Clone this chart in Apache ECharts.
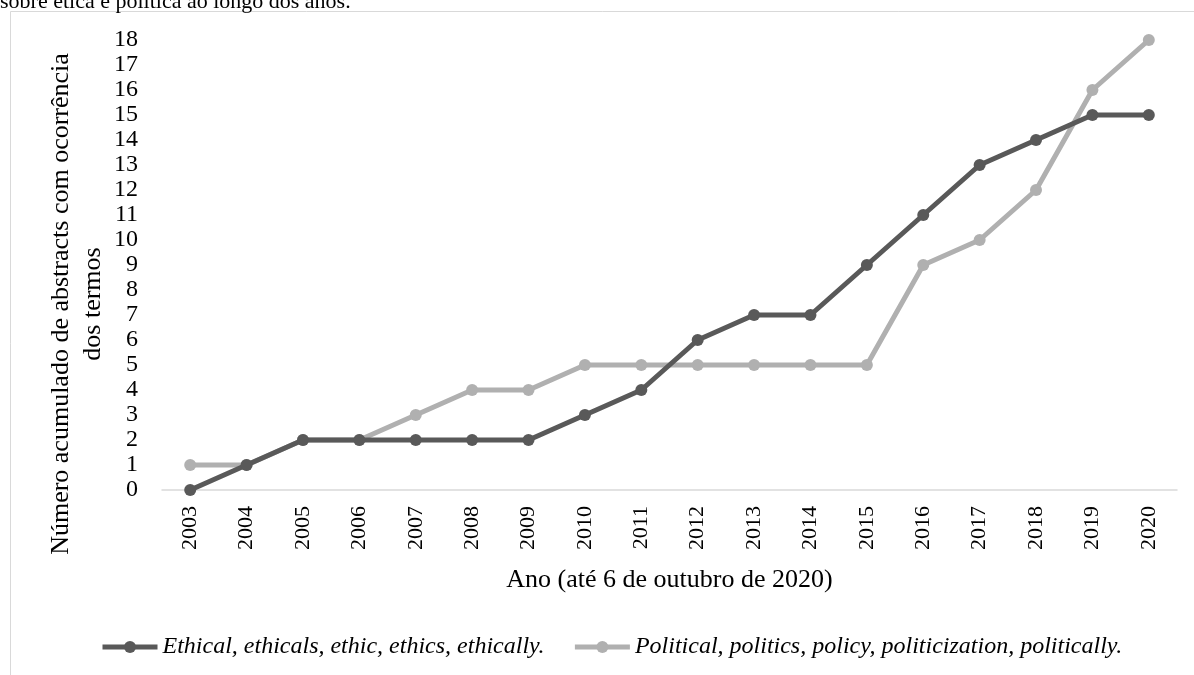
<!DOCTYPE html>
<html>
<head>
<meta charset="utf-8">
<script src="https://cdn.jsdelivr.net/npm/echarts@6/dist/echarts.min.js"></script>
<style>
html,body{margin:0;padding:0;background:#fff;}
#chart{width:1194px;height:675px;}
</style>
</head>
<body>
<div id="chart"></div>
<script>
const years = ['2003','2004','2005','2006','2007','2008','2009','2010','2011','2012','2013','2014','2015','2016','2017','2018','2019','2020'];
const ethical = [0,1,2,2,2,2,2,3,4,6,7,7,9,11,13,14,15,15];
const political = [1,1,2,2,3,4,4,5,5,5,5,5,5,9,10,12,16,18];
const seriesNames = ['Ethical, ethicals, ethic, ethics, ethically.', 'Political, politics, policy, politicization, politically.'];
const yTicks = [0,1,2,3,4,5,6,7,8,9,10,11,12,13,14,15,16,17,18];

const FONT = '"Liberation Serif", "Times New Roman", serif';
const DARK = '#595959';
const LIGHT = '#b0b0b0';

const chart = echarts.init(document.getElementById('chart'));
chart.setOption({
  animation: false,
  backgroundColor: '#fff',
  textStyle: { fontFamily: FONT, color: '#000' },
  graphic: [
    { type: 'rect', shape: { x: 10.5, y: 11.5, width: 1300, height: 800 },
      style: { fill: 'none', stroke: '#d9d9d9', lineWidth: 1 } },
    { type: 'text', x: 0, y: 13,
      style: { text: 'sobre ética e política ao longo dos anos.', fontFamily: FONT, fontSize: 22, fill: '#000', align: 'left', verticalAlign: 'bottom' } },
    { type: 'text', x: 61, y: 304, rotation: Math.PI / 2,
      style: { text: 'Número acumulado de abstracts com ocorrência', fontFamily: FONT, fontSize: 26, fill: '#000', align: 'center', verticalAlign: 'middle' } },
    { type: 'text', x: 93, y: 304, rotation: Math.PI / 2,
      style: { text: 'dos termos', fontFamily: FONT, fontSize: 26, fill: '#000', align: 'center', verticalAlign: 'middle' } }
  ],
  grid: { left: 162, right: 17, top: 40, bottom: 185, containLabel: false },
  legend: {
    bottom: 16,
    left: 100,
    padding: 0,
    itemWidth: 55,
    itemHeight: 15,
    itemGap: 28,
    lineStyle: { width: 5 },
    textStyle: { fontFamily: FONT, fontSize: 24, fontStyle: 'italic', color: '#000' },
    data: seriesNames
  },
  xAxis: {
    type: 'category',
    data: years,
    boundaryGap: true,
    name: 'Ano (até 6 de outubro de 2020)',
    nameLocation: 'middle',
    nameGap: 77,
    nameTextStyle: { fontFamily: FONT, fontSize: 26, color: '#000' },
    axisLine: { show: true, lineStyle: { color: '#d9d9d9', width: 1.5 } },
    axisTick: { show: false },
    axisLabel: { rotate: 90, fontFamily: FONT, fontSize: 22, color: '#000', margin: 16 }
  },
  yAxis: {
    type: 'value',
    min: 0,
    max: 18,
    interval: 1,
    axisLine: { show: false },
    axisTick: { show: false },
    splitLine: { show: false },
    axisLabel: { fontFamily: FONT, fontSize: 24, color: '#000', margin: 24,
      formatter: v => yTicks.includes(v) ? String(v) : '' }
  },
  series: [
    { name: seriesNames[0], type: 'line', data: ethical, symbol: 'circle', symbolSize: 12,
      lineStyle: { color: DARK, width: 5 }, itemStyle: { color: DARK }, z: 3 },
    { name: seriesNames[1], type: 'line', data: political, symbol: 'circle', symbolSize: 12,
      lineStyle: { color: LIGHT, width: 5 }, itemStyle: { color: LIGHT }, z: 2 }
  ]
});
</script>
</body>
</html>
